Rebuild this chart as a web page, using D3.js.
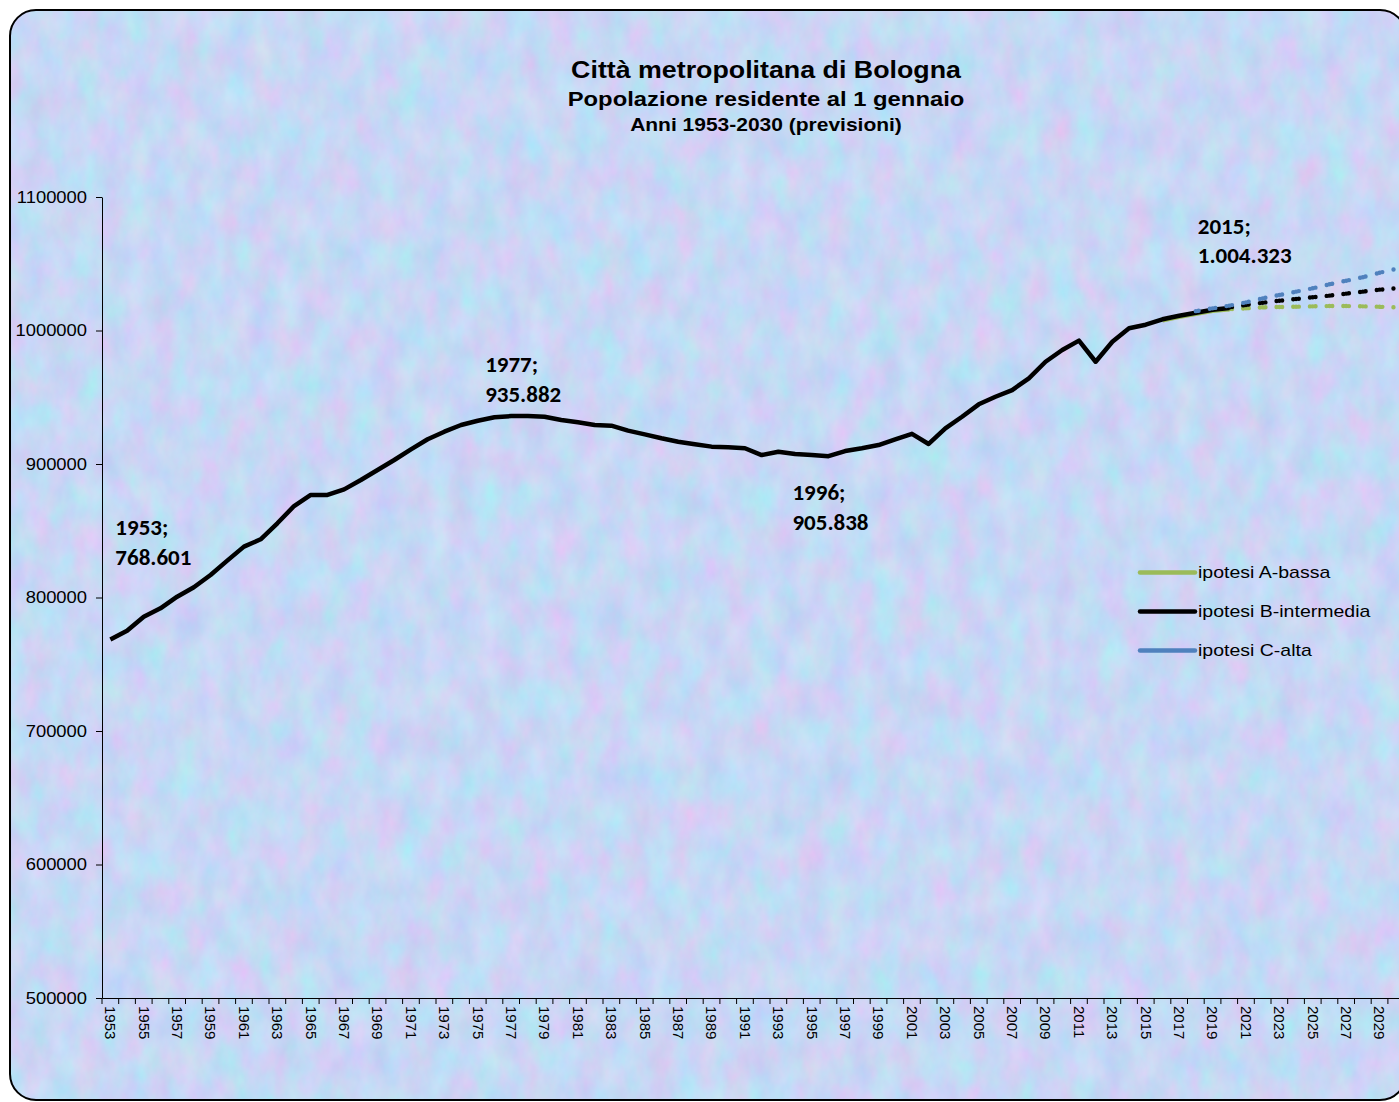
<!DOCTYPE html>
<html>
<head>
<meta charset="utf-8">
<script src="https://cdn.jsdelivr.net/npm/d3@7"></script>
<style>
    body { margin: 0; background: #fff; }
    svg { display: block; }
    .axis text { font-family: "Liberation Sans", Arial, sans-serif; fill: #000; }
    .axis path, .axis line { stroke: #000; stroke-width: 1; }
</style>
</head>
<body>
<div id="chart"></div>
<script>
//Years on the category axis
const years = d3.range(1953, 2031);

//Observed population, 1953-2020
const histYears = d3.range(1953, 2021);
const histValues = [
    768601, 775100, 785600, 791900, 800600, 807700, 816900, 827600, 838100, 843600,
    855600, 868500, 876800, 876800, 881000, 888000, 895500, 903000, 911000, 918500,
    924200, 929200, 932400, 935000, 935882, 935900, 935400, 933000, 931200, 929200,
    928700, 925000, 922200, 919300, 916700, 914800, 913000, 912500, 911800, 906700,
    909200, 907500, 906700, 905838, 909700, 911800, 914200, 918500, 922600, 915000,
    926700, 935400, 944700, 950400, 955400, 964200, 976600, 985400, 992400, 976600,
    991600, 1001700, 1004323, 1008400, 1011100, 1013300, 1015500, 1016800
];

//Projections (solid until the first projected year, dotted after)
const projAYears = d3.range(2016, 2031);
const projAValues = [
    1007600, 1010300, 1012600, 1014700, 1016000, 1016600, 1017400, 1017600, 1017800,
    1018100, 1018300, 1018300, 1018100, 1017800, 1017400
];
const projBYears = d3.range(2020, 2031);
const projBValues = [
    1017200, 1019100, 1020800, 1022300, 1023600, 1024900, 1026100, 1027600, 1029100,
    1030600, 1031600
];
const projCYears = d3.range(2018, 2031);
const projCValues = [
    1014500, 1016600, 1018600, 1021100, 1024100, 1026600, 1029100, 1031600, 1034600,
    1037300, 1039900, 1043300, 1046100
];

//Y ticks
const yTicks = [500000, 600000, 700000, 800000, 900000, 1000000, 1100000];

//Data labels
const labelYears = [1953, 1977, 1996, 2015];
const labelTexts = ["768.601", "935.882", "905.838", "1.004.323"];

//Series
const seriesNames = ["ipotesi A-bassa", "ipotesi B-intermedia", "ipotesi C-alta"];
const seriesColors = ["#9bbb59", "#000000", "#4f81bd"];

//Width and height
var w = 1399;
var h = 1102;

var svg = d3.select("#chart")
    .append("svg")
    .attr("width", w)
    .attr("height", h);

//Textured background
var defs = svg.append("defs");
var filter = defs.append("filter")
    .attr("id", "tex")
    .attr("color-interpolation-filters", "sRGB")
    .attr("x", 0).attr("y", 0).attr("width", "100%").attr("height", "100%");
filter.append("feTurbulence")
    .attr("type", "fractalNoise")
    .attr("baseFrequency", "0.04 0.025")
    .attr("numOctaves", 4)
    .attr("seed", 7)
    .attr("result", "noise");
filter.append("feColorMatrix")
    .attr("in", "noise")
    .attr("type", "matrix")
    .attr("values", "0.22 -0.1 0 0 0.72  -0.05 0.16 0 0 0.79  0 0 0.06 0 0.93  0 0 0 0 1");

defs.append("clipPath")
    .attr("id", "frame")
    .append("rect")
    .attr("x", 10).attr("y", 10)
    .attr("width", 1396).attr("height", 1090)
    .attr("rx", 26).attr("ry", 26);

svg.append("rect")
    .attr("x", 10).attr("y", 10)
    .attr("width", 1396).attr("height", 1090)
    .attr("clip-path", "url(#frame)")
    .attr("fill", "#c9daf4")
    .attr("filter", "url(#tex)");

svg.append("rect")
    .attr("x", 10).attr("y", 10)
    .attr("width", 1396).attr("height", 1090)
    .attr("rx", 26).attr("ry", 26)
    .attr("fill", "none")
    .attr("stroke", "#000")
    .attr("stroke-width", 2);

//Titles
var titles = [
    { text: "Città metropolitana di Bologna", size: 23.3, y: 78, sx: 1.15 },
    { text: "Popolazione residente al 1 gennaio", size: 19.5, y: 106, sx: 1.22 },
    { text: "Anni 1953-2030 (previsioni)", size: 17.5, y: 131, sx: 1.2 }
];
svg.selectAll(".title")
    .data(titles)
    .join("text")
    .attr("class", "title")
    .attr("transform", d => `translate(766,${d.y}) scale(${d.sx},1)`)
    .attr("text-anchor", "middle")
    .style("font-family", "'Liberation Sans', Arial, sans-serif")
    .style("font-weight", "bold")
    .style("font-size", d => d.size + "px")
    .text(d => d.text);

//Scales
var left = 102;
var step = 16.7;
var xBand = d3.scaleBand()
    .domain(years)
    .range([left, left + step * years.length]);
var x = d3.scalePoint()
    .domain(years)
    .range([left, left + step * years.length])
    .padding(0.5);
var y = d3.scaleLinear()
    .domain([500000, 1100000])
    .range([998, 197]);

//Y axis
var yAxis = svg.append("g")
    .attr("class", "axis")
    .attr("transform", `translate(${left},0)`)
    .call(d3.axisLeft(y).tickValues(yTicks).tickSize(6).tickSizeOuter(0).tickPadding(7).tickFormat(d3.format("d")));
yAxis.selectAll(".tick text")
    .attr("transform", "scale(1.15,1)")
    .style("font-size", "16px");

//X axis
var xAxis = svg.append("g")
    .attr("class", "axis")
    .attr("transform", "translate(0,998)")
    .call(d3.axisBottom(xBand).tickSize(0).tickSizeOuter(0).tickFormat(d => (d - 1953) % 2 === 0 ? d : ""));
xAxis.selectAll(".tick text")
    .attr("transform", "rotate(90)")
    .attr("x", 8)
    .attr("y", 0)
    .attr("dy", "0.35em")
    .style("text-anchor", "start")
    .style("font-size", "15px");
xAxis.selectAll(".tickmark")
    .data(years.concat([null]))
    .join("line")
    .attr("class", "tickmark")
    .attr("x1", d => d === null ? xBand.range()[1] : xBand(d))
    .attr("x2", d => d === null ? xBand.range()[1] : xBand(d))
    .attr("y1", 0)
    .attr("y2", 6)
    .attr("stroke", "#000");

var line = d3.line()
    .x(d => x(d[0]))
    .y(d => y(d[1]));

var plot = svg.append("g").attr("clip-path", "url(#frame)");

//Draw one projection: solid up to solidUntil, paired round dots after
function drawProjection(yrs, vals, color, solidUntil) {
    var pts = yrs.map((yr, i) => [yr, vals[i]]);
    var solid = pts.filter(p => p[0] <= solidUntil);
    if (solid.length > 1) {
        plot.append("path")
            .attr("d", line(solid))
            .attr("fill", "none")
            .attr("stroke", color)
            .attr("stroke-width", 4.5)
            .attr("stroke-linejoin", "round");
    }
    var segs = d3.pairs(pts).filter(s => s[0][0] >= solidUntil);
    plot.selectAll(null)
        .data(segs)
        .join("path")
        .attr("d", s => line(s))
        .attr("fill", "none")
        .attr("stroke", color)
        .attr("stroke-width", 4.4)
        .attr("stroke-linecap", "round")
        .attr("stroke-dasharray", s => {
            var L = Math.hypot(x(s[1][0]) - x(s[0][0]), y(s[1][1]) - y(s[0][1]));
            return `0 2.8 0 ${L - 5.6} 0 ${L + 10}`;
        });
}

drawProjection(projAYears, projAValues, seriesColors[0], 2020);

//Observed line
plot.append("path")
    .attr("d", line(histYears.map((yr, i) => [yr, histValues[i]])))
    .attr("fill", "none")
    .attr("stroke", "#000")
    .attr("stroke-width", 4.5)
    .attr("stroke-linejoin", "round");

drawProjection(projBYears, projBValues, seriesColors[1], 2020);
drawProjection(projCYears, projCValues, seriesColors[2], 2018);

//Data labels
var labelPos = [
    { dx: 5, dy: -104 },
    { dx: -26, dy: -44 },
    { dx: -36, dy: 44 },
    { dx: 52, dy: -91 }
];
var labels = svg.selectAll(".dlabel")
    .data(labelYears)
    .join("text")
    .attr("class", "dlabel")
    .attr("x", (d, i) => x(d) + labelPos[i].dx)
    .attr("y", (d, i) => y(histValues[histYears.indexOf(d)]) + labelPos[i].dy)
    .style("font-family", "Carlito, Calibri, Lato, sans-serif")
    .style("font-weight", "bold")
    .style("font-size", "23px");
labels.append("tspan")
    .text(d => d + ";");
labels.append("tspan")
    .attr("x", (d, i) => x(d) + labelPos[i].dx)
    .attr("dy", 29.5)
    .text((d, i) => labelTexts[i]);

//Legend
var legendOrder = [0, 1, 2];
var legend = svg.selectAll(".legend")
    .data(legendOrder)
    .join("g")
    .attr("class", "legend")
    .attr("transform", (d, i) => `translate(1140,${572.5 + i * 39})`);
legend.append("line")
    .attr("x1", 0)
    .attr("x2", 55)
    .attr("stroke", d => seriesColors[d])
    .attr("stroke-width", 4.5)
    .attr("stroke-linecap", "round");
legend.append("text")
    .attr("transform", "translate(58,0) scale(1.22,1)")
    .attr("dy", "0.35em")
    .style("font-family", "'Liberation Sans', Arial, sans-serif")
    .style("font-size", "16px")
    .text(d => seriesNames[d]);
</script>
</body>
</html>
